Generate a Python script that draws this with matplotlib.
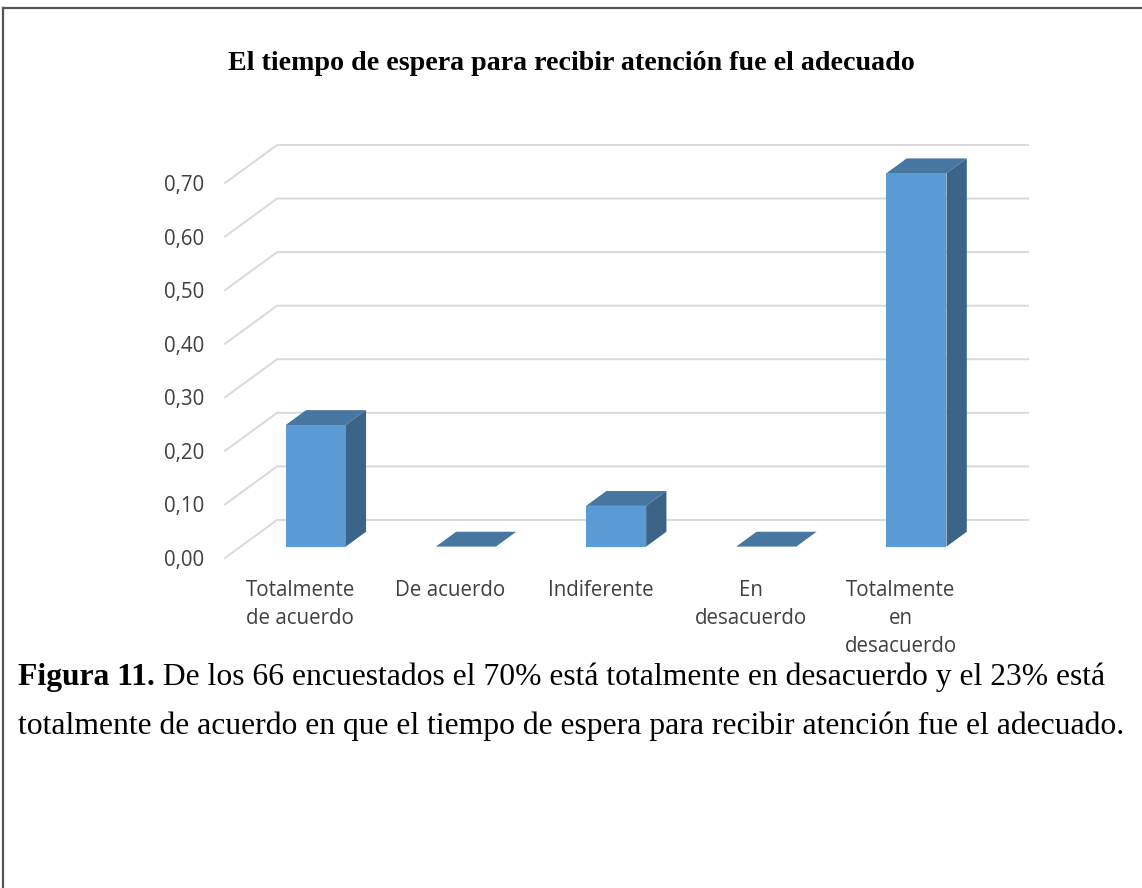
import matplotlib
matplotlib.use("Agg")
import matplotlib.pyplot as plt
from matplotlib.patches import Polygon
from matplotlib.lines import Line2D

# Survey results (share of 66 respondents)
categories = ["Totalmente\nde acuerdo", "De acuerdo", "Indiferente",
              "En\ndesacuerdo", "Totalmente\nen\ndesacuerdo"]
shares = [0.227, 0.0, 0.076, 0.0, 0.697]
y_ticks = [0.0, 0.1, 0.2, 0.3, 0.4, 0.5, 0.6, 0.7]
y_tick_labels = ["0,00", "0,10", "0,20", "0,30", "0,40", "0,50", "0,60", "0,70"]

title = "El tiempo de espera para recibir atención fue el adecuado"
caption_bold = "Figura 11."
caption_line1 = " De los 66 encuestados el 70% está totalmente en desacuerdo y el 23% está"
caption_line2 = ("totalmente de acuerdo en que el tiempo de espera para recibir "
                 "atención fue el adecuado.")

W, H = 1142, 888
fig = plt.figure(figsize=(W / 100, H / 100), dpi=100)
fig.patch.set_facecolor("white")

# pseudo-3D depth of the floor, in data units
DX = 52 / 150
DY = 38 / 535
d_front, d_back = 0.30, 0.69
bar_w = 0.4

ax = fig.add_axes([225 / W, 1 - 558 / H, (1028 - 225) / W, (558 - 145) / H])
ax.set_xlim(-0.5, len(categories) - 0.5 + DX)
ax.set_ylim(0, y_ticks[-1] + DY)
for s in ax.spines.values():
    s.set_visible(False)
ax.patch.set_alpha(0)

# gridlines: diagonal on the side wall, horizontal along the back wall
x_left = -0.5
x_right = len(categories) - 0.5
for v in y_ticks:
    ax.plot([x_left, x_left + DX, x_right + DX], [v, v + DY, v + DY],
            color="#d9d9d9", lw=1.4, clip_on=False, zorder=1)

front_c = "#5b9bd5"
top_c = "#4776a1"
side_c = "#3b6488"
xs = list(range(len(categories)))

# front faces
ax.bar([x + d_front * DX for x in xs], shares, width=bar_w,
       bottom=d_front * DY, color=front_c, zorder=3, linewidth=0)

for x, v in zip(xs, shares):
    l = x - bar_w / 2
    r = x + bar_w / 2
    top = [(l + d_front * DX, v + d_front * DY), (r + d_front * DX, v + d_front * DY),
           (r + d_back * DX, v + d_back * DY), (l + d_back * DX, v + d_back * DY)]
    ax.add_patch(Polygon(top, closed=True, facecolor=top_c, edgecolor="none",
                         zorder=2.9))
    if v > 0:
        side = [(r + d_front * DX, d_front * DY), (r + d_back * DX, d_back * DY),
                (r + d_back * DX, v + d_back * DY), (r + d_front * DX, v + d_front * DY)]
        ax.add_patch(Polygon(side, closed=True, facecolor=side_c, edgecolor="none",
                             zorder=2.9))

label_font = dict(family=["Open Sans", "DejaVu Sans"], size=14.8, color="#404040")
ax.set_yticks(y_ticks)
ax.set_yticklabels(y_tick_labels, **label_font)
ax.set_xticks(xs)
ax.set_xticklabels(categories, **label_font)
for t in ax.get_xticklabels():
    t.set_linespacing(1.42)
    t.set_verticalalignment("top")
ax.tick_params(axis="both", length=0)
ax.tick_params(axis="y", pad=15)
ax.tick_params(axis="x", pad=16)

fig.text(0.5, 1 - 63 / H, title, ha="center", va="center",
         family=["Liberation Serif"], fontweight="bold", size=20.2, color="#000000")

# caption under the chart
cap_font = dict(family=["Liberation Serif"], size=22.8, color="#000000")
left_px = 18
y1, y2 = 1 - 677 / H, 1 - 726 / H
t_bold = fig.text(left_px / W, y1, caption_bold, ha="left", va="center",
                  fontweight="bold", **cap_font)
fig.canvas.draw()
bb = t_bold.get_window_extent()
fig.text(bb.x1 / W, y1, caption_line1, ha="left", va="center", **cap_font)
fig.text(left_px / W, y2, caption_line2, ha="left", va="center", **cap_font)

# frame around the figure block
fig.add_artist(Line2D([3 / W, 1.0], [1 - 8.5 / H, 1 - 8.5 / H],
                      transform=fig.transFigure, color="#555555", lw=1.6))
fig.add_artist(Line2D([3 / W, 3 / W], [1 - 8.5 / H, 0.0],
                      transform=fig.transFigure, color="#555555", lw=1.6))

fig.savefig("out.png", dpi=100, facecolor="white")
